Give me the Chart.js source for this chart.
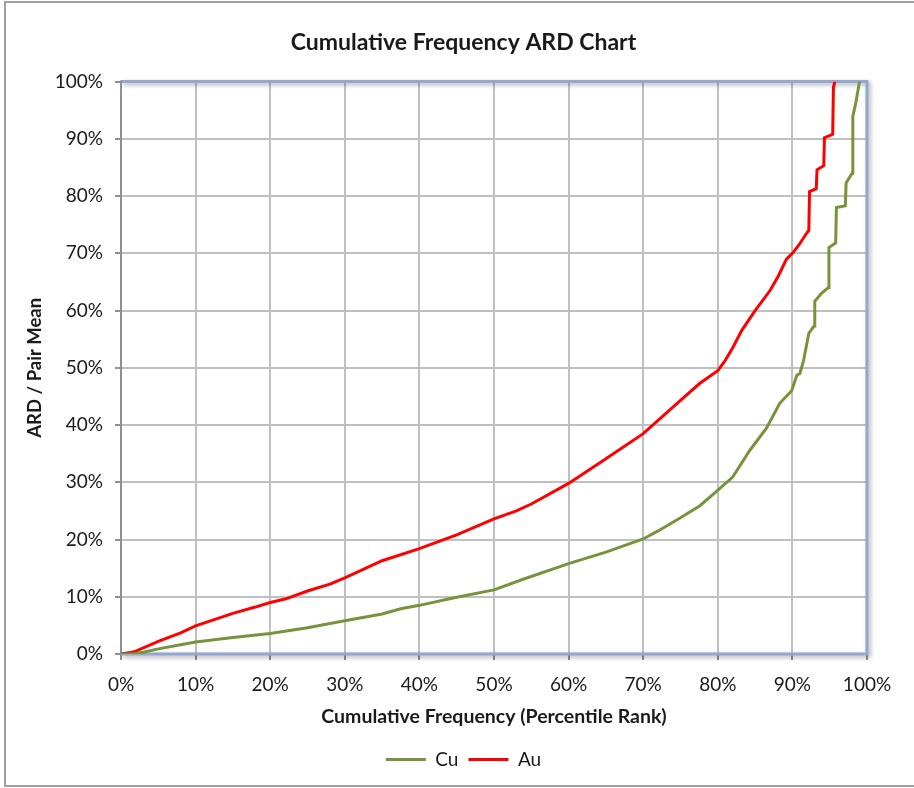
<!DOCTYPE html>
<html>
<head>
<meta charset="utf-8">
<title>Cumulative Frequency ARD Chart</title>
<script src="https://cdn.jsdelivr.net/npm/chart.js@4/dist/chart.umd.min.js"></script>
<style>
  html, body { margin: 0; padding: 0; background: #ffffff; }
  #wrap { width: 914px; height: 788px; }
</style>
</head>
<body>
<div id="wrap"><canvas id="chart" width="914" height="788"></canvas></div>
<script>
// Percentile rank (%) and ARD / pair mean (%) for each element
const cuRank = [0, 1.5, 3, 5, 8, 10, 15, 20, 25, 30, 35, 37.5, 40, 45, 50, 54, 60, 65, 70, 72, 75, 77.6, 79.9, 82, 84.3, 86.5, 88.3, 89.9, 90.6, 91.0, 91.5, 92.2, 92.9, 93.0, 93.9, 94.8, 94.9, 95.8, 95.9, 97.1, 97.2, 98.0, 98.1, 98.5, 99.0];
const cuArd  = [0, 0, 0.3, 0.9, 1.6, 2.1, 2.9, 3.6, 4.6, 5.8, 7.0, 7.9, 8.5, 9.9, 11.2, 13.1, 15.8, 17.8, 20.1, 21.5, 23.8, 25.9, 28.5, 30.9, 35.6, 39.4, 43.8, 46, 48.7, 49, 51.3, 56, 57.3, 61.6, 63, 64, 71, 71.8, 78, 78.3, 82.3, 84, 93.9, 96.3, 100];

const auRank = [0, 1.5, 2, 5, 8, 10, 12, 15, 18, 20, 22, 25, 28, 30, 35, 40, 45, 50, 53, 55, 60, 65, 70, 75, 77.6, 80, 81, 82, 83.2, 85, 87, 88.1, 89.2, 90, 90.9, 91.9, 92.2, 92.3, 93.2, 93.3, 94.2, 94.3, 95.4, 95.5, 95.7];
const auArd  = [0, 0.3, 0.5, 2.2, 3.7, 4.9, 5.8, 7.1, 8.2, 9.0, 9.6, 11.0, 12.2, 13.3, 16.3, 18.4, 20.8, 23.6, 25.0, 26.2, 29.8, 34.1, 38.5, 44.3, 47.3, 49.5, 51.3, 53.5, 56.5, 60, 63.5, 66, 69, 70, 71.5, 73.5, 74, 80.8, 81.3, 84.6, 85.3, 90.2, 90.8, 99, 100];

const seriesNames = ['Cu', 'Au'];
const axisMin = 0, axisMax = 100, axisStep = 10;

const FONT = 'Lato, "Open Sans", "DejaVu Sans", sans-serif';
const TEXT = '#1a1a1a';

const toPoints = (xs, ys) => xs.map((x, i) => ({ x: x, y: ys[i] }));

// Grey outer frame of the chart object
const framePlugin = {
  id: 'frame',
  beforeDraw(chart) {
    const ctx = chart.ctx;
    ctx.save();
    ctx.fillStyle = '#ffffff';
    ctx.fillRect(0, 0, chart.width, chart.height);
    ctx.strokeStyle = '#a0a0a0';
    ctx.lineWidth = 2;
    ctx.strokeRect(5, 2, chart.width + 20, chart.height - 4);
    ctx.restore();
  }
};

// Blue-grey plot area border with a soft drop shadow
const plotBorderPlugin = {
  id: 'plotBorder',
  beforeDatasetsDraw(chart) {
    const { ctx, chartArea: a } = chart;
    ctx.save();
    ctx.shadowColor = 'rgba(0,0,0,0.35)';
    ctx.shadowBlur = 4;
    ctx.shadowOffsetX = 2;
    ctx.shadowOffsetY = 2;
    ctx.strokeStyle = '#94a8cf';
    ctx.lineWidth = 3;
    ctx.beginPath();
    ctx.moveTo(a.left, a.top);
    ctx.lineTo(a.right, a.top);
    ctx.lineTo(a.right, a.bottom);
    ctx.lineTo(a.left, a.bottom);
    ctx.stroke();
    ctx.restore();
    ctx.save();
    ctx.strokeStyle = '#8a8f99';
    ctx.lineWidth = 2;
    ctx.beginPath();
    ctx.moveTo(a.left, a.top - 1);
    ctx.lineTo(a.left, a.bottom + 1);
    ctx.stroke();
    ctx.restore();
  }
};

new Chart(document.getElementById('chart'), {
  type: 'line',
  data: {
    datasets: [
      {
        label: seriesNames[0],
        data: toPoints(cuRank, cuArd),
        borderColor: '#77933c',
        backgroundColor: '#77933c',
        borderWidth: 3,
        pointRadius: 0,
        tension: 0,
        fill: false
      },
      {
        label: seriesNames[1],
        data: toPoints(auRank, auArd),
        borderColor: '#ff0000',
        backgroundColor: '#ff0000',
        borderWidth: 3,
        pointRadius: 0,
        tension: 0,
        fill: false
      }
    ]
  },
  options: {
    responsive: false,
    animation: false,
    layout: { padding: { top: 0, left: 13, right: 0, bottom: 9 } },
    plugins: {
      title: {
        display: true,
        text: 'Cumulative Frequency ARD Chart',
        color: TEXT,
        font: { family: FONT, size: 23, weight: 'bold' },
        padding: { top: 29, bottom: 25 }
      },
      legend: {
        position: 'bottom',
        labels: {
          color: TEXT,
          font: { family: FONT, size: 19 },
          usePointStyle: true,
          pointStyle: 'line',
          pointStyleWidth: 40,
          padding: 10
        }
      },
      tooltip: { enabled: false }
    },
    scales: {
      x: {
        type: 'linear',
        min: axisMin,
        max: axisMax,
        afterFit(scale) { scale.height = 86; },
        ticks: {
          stepSize: axisStep,
          padding: 13,
          color: TEXT,
          font: { family: FONT, size: 19 },
          maxRotation: 0,
          callback: v => v + '%'
        },
        grid: { color: '#c0c0c0', lineWidth: 2, tickLength: 6, tickColor: '#8a8f99', tickWidth: 2 },
        border: { color: '#8a8f99', width: 2 },
        title: {
          display: true,
          text: 'Cumulative Frequency (Percentile Rank)',
          color: TEXT,
          font: { family: FONT, size: 19.5, weight: 'bold' },
          padding: { top: 4, bottom: 12 }
        }
      },
      y: {
        min: axisMin,
        max: axisMax,
        afterFit(scale) { scale.width = 108; },
        ticks: {
          stepSize: axisStep,
          padding: 12,
          color: TEXT,
          font: { family: FONT, size: 19 },
          callback: v => v + '%'
        },
        grid: { color: '#c0c0c0', lineWidth: 2, tickLength: 6, tickColor: '#8a8f99', tickWidth: 2 },
        border: { color: '#8a8f99', width: 2 },
        title: {
          display: true,
          text: 'ARD / Pair Mean',
          color: TEXT,
          font: { family: FONT, size: 18.5, weight: 'bold' },
          padding: { top: 11, bottom: 4 }
        }
      },
      // empty right-hand margin keeping the plot clear of the frame edge
      yRight: {
        position: 'right',
        afterFit(scale) { scale.width = 47; },
        ticks: { display: false },
        grid: { display: false, drawTicks: false },
        border: { display: false },
        title: { display: false }
      }
    }
  },
  plugins: [framePlugin, plotBorderPlugin]
});
</script>
</body>
</html>
